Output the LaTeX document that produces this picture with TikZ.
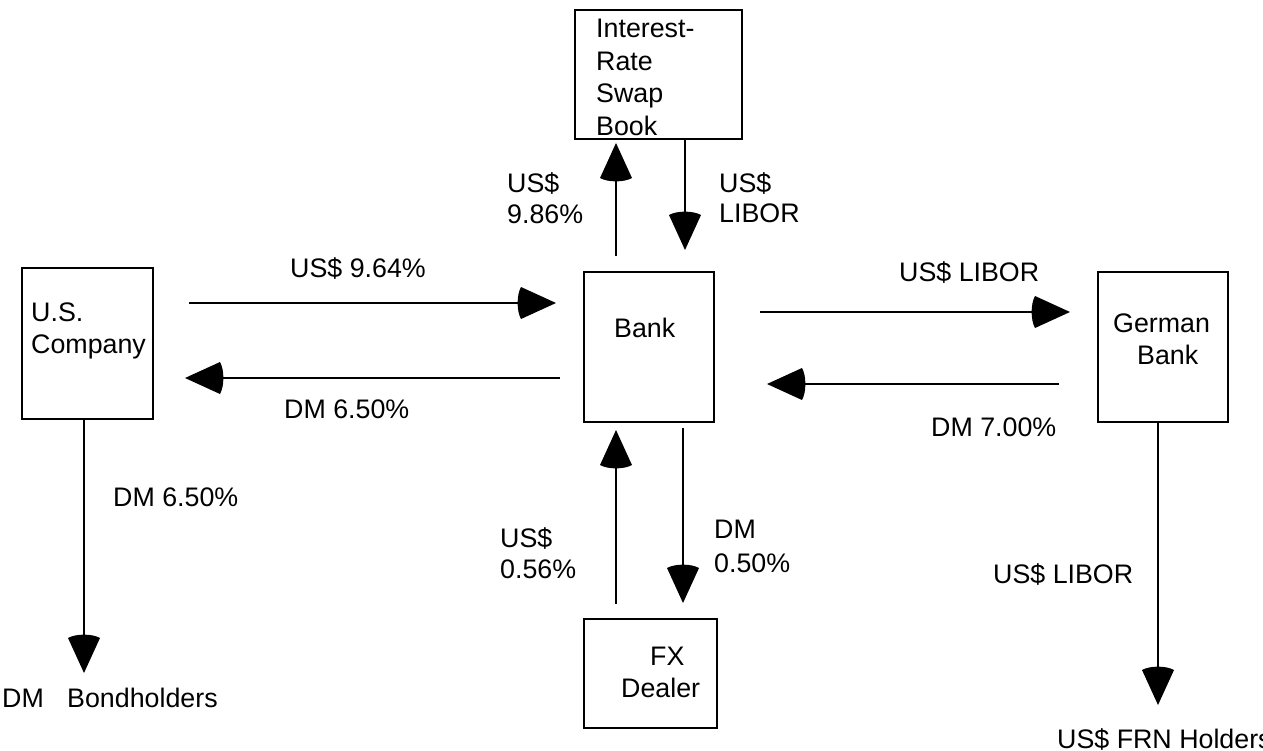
\documentclass[tikz,border=0pt]{standalone}
\usepackage{fontspec}
\setmainfont{Liberation Sans}
\usetikzlibrary{arrows.meta}
\makeatletter
\pgfdeclarearrow{
  name=Cone,
  setup code={
    \pgfarrowssettipend{0pt}
    \pgfarrowssetbackend{-39pt}
    \pgfarrowssetlineend{-28pt}
  },
  drawing code={
    \pgfpathmoveto{\pgfqpoint{0pt}{0pt}}
    \pgfpathlineto{\pgfqpoint{-35pt}{16pt}}
    \pgfpathcurveto{\pgfqpoint{-39.5pt}{8pt}}{\pgfqpoint{-39.5pt}{-8pt}}{\pgfqpoint{-35pt}{-16pt}}
    \pgfpathclose
    \pgfusepathqfill
  }
}
\makeatother
\tikzset{
  box/.style={draw, line width=2.6pt, rectangle, inner sep=0pt},
  lbl/.style={inner sep=0pt, anchor=base west, font=\fontsize{26.8pt}{32pt}\selectfont},
  flow/.style={line width=2.6pt, -{Cone}}
}
\begin{document}
\begin{tikzpicture}[x=1pt, y=-1pt]
\useasboundingbox (0,0) rectangle (1263,750);
% boxes
\node[box, minimum width=167pt, minimum height=129pt] (swap) at (658.5,74.5) {};
\node[box, minimum width=130pt, minimum height=150pt] (bank) at (649,347) {};
\node[box, minimum width=131pt, minimum height=151pt] (us) at (87.5,343.5) {};
\node[box, minimum width=130pt, minimum height=150pt] (de) at (1163,347) {};
\node[box, minimum width=133pt, minimum height=109pt] (fx) at (650.5,673.5) {};
% box texts
\node[lbl] (t1) at (596,37) {Interest-};
\node[lbl] (t2) at (596,70) {Rate};
\node[lbl] (t3) at (596,102) {Swap};
\node[lbl] (t4) at (596,135) {Book};
\node[lbl] (t5) at (614,337) {Bank};
\node[lbl] (t6) at (31,321) {U.S.};
\node[lbl] (t7) at (31,353) {Company};
\node[lbl] (t8) at (1113,332) {German};
\node[lbl] (t9) at (1137,364) {Bank};
\node[lbl] (t10) at (650,665) {FX};
\node[lbl] (t11) at (621,697) {Dealer};
% free ends
\coordinate (a1s) at (189,303); \coordinate (a1e) at (556,303);
\coordinate (a2s) at (560,378); \coordinate (a2e) at (185,378);
\coordinate (a3s) at (616,256); \coordinate (a3e) at (616,143);
\coordinate (a4s) at (685,139); \coordinate (a4e) at (685,250);
\coordinate (a5s) at (760,312); \coordinate (a5e) at (1070,312);
\coordinate (a6s) at (1059,384); \coordinate (a6e) at (767,384);
\coordinate (a7s) at (616,604); \coordinate (a7e) at (616,430);
\coordinate (a8s) at (683,428); \coordinate (a8e) at (683,603);
\coordinate (a9e) at (84,673);
\coordinate (a10e) at (1158,705);
% connectors
\draw[flow] (a1s) -- (a1e);
\draw[flow] (a2s) -- (a2e);
\draw[flow] (a3s) -- (a3e);
\draw[flow] (a4s) -- (a4e);
\draw[flow] (a5s) -- (a5e);
\draw[flow] (a6s) -- (a6e);
\draw[flow] (a7s) -- (a7e);
\draw[flow] (a8s) -- (a8e);
\draw[flow] (us.south -| a9e) -- (a9e);
\draw[flow] (de.south -| a10e) -- (a10e);
% flow labels
\node[lbl] (l1) at (290,277) {US\$ 9.64\%};
\node[lbl] (l2) at (284,418) {DM 6.50\%};
\node[lbl] (l3) at (507,192) {US\$};
\node[lbl] (l4) at (507,223) {9.86\%};
\node[lbl] (l5) at (719,192) {US\$};
\node[lbl] (l6) at (719,222) {LIBOR};
\node[lbl] (l7) at (899,281) {US\$ LIBOR};
\node[lbl] (l8) at (931,436) {DM 7.00\%};
\node[lbl] (l9) at (113,506) {DM 6.50\%};
\node[lbl] (l10) at (2,707) {DM};
\node[lbl] (l11) at (67,707) {Bondholders};
\node[lbl] (l12) at (500,547) {US\$};
\node[lbl] (l13) at (500,578) {0.56\%};
\node[lbl] (l14) at (714,538) {DM};
\node[lbl] (l15) at (714,572) {0.50\%};
\node[lbl] (l16) at (993,583) {US\$ LIBOR};
\node[lbl] (l17) at (1057,748) {US\$ FRN Holders};
\end{tikzpicture}
\end{document}
